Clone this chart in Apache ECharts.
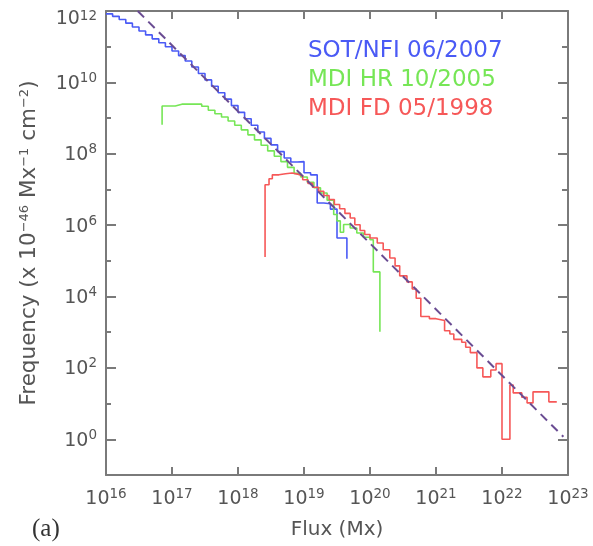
<!DOCTYPE html>
<html><head><meta charset="utf-8">
<script src="https://cdn.jsdelivr.net/npm/echarts@6/dist/echarts.min.js"></script>
<style>html,body{margin:0;padding:0;background:#fff}#c{width:593px;height:546px}</style>
</head><body><div id="c"></div>
<script>
// Values are log10 values
// (flux in Mx, frequency in units of 1e-46 Mx^-1 cm^-2); axes are decades.
const xTickExps = [16, 17, 18, 19, 20, 21, 22, 23];
const yMajorExps = [0, 2, 4, 6, 8, 10, 12];
const yMinorExps = [-1, 1, 3, 5, 7, 9, 11];

// SOT/NFI 06/2007 (blue): bin left edges / values
const sotLogFlux = [16.0,16.1,16.2,16.3,16.4,16.5,16.6,16.7,16.8,16.9,
  17.0,17.1,17.2,17.3,17.4,17.5,17.6,17.7,17.8,17.9,
  18.0,18.1,18.2,18.3,18.4,18.5,18.6,18.7,18.8,18.9,
  19.0,19.1,19.2,19.3,19.4,19.5,19.65,19.65];
const sotLogFreq = [11.92,11.85,11.76,11.66,11.55,11.44,11.33,11.22,11.11,11.00,
  10.88,10.75,10.60,10.43,10.25,10.07,9.89,9.71,9.53,9.35,
  9.16,8.98,8.80,8.61,8.43,8.25,8.06,7.88,7.77,7.78,
  7.47,7.41,6.62,6.60,6.45,5.64,5.64,5.06];

// MDI HR 10/2005 (green)
const hrLogFlux = [16.85,16.85,16.95,17.05,17.15,17.25,17.35,17.45,17.55,17.65,
  17.75,17.85,17.95,18.05,18.15,18.25,18.35,18.45,18.55,18.65,
  18.75,18.85,18.95,19.05,19.15,19.25,19.35,19.45,19.50,19.55,
  19.60,19.70,19.80,19.90,20.00,20.05,20.15,20.15];
const hrLogFreq = [8.81,9.34,9.34,9.39,9.39,9.39,9.39,9.33,9.22,9.12,
  9.03,8.92,8.80,8.67,8.53,8.39,8.24,8.08,7.93,7.78,
  7.62,7.45,7.35,7.20,7.05,6.90,6.70,6.30,6.12,5.80,
  6.02,5.92,5.78,5.66,5.59,4.69,4.69,3.01];

// MDI FD 05/1998 (red)
const fdLogFlux = [18.41,18.41,18.47,18.52,18.62,18.72,18.82,18.90,18.98,19.06,
  19.13,19.22,19.30,19.38,19.46,19.54,19.62,19.70,19.77,19.85,
  19.92,20.00,20.11,20.20,20.30,20.38,20.45,20.56,20.64,20.70,
  20.77,20.90,21.00,21.13,21.21,21.27,21.39,21.45,21.52,21.62,
  21.71,21.83,21.91,22.00,22.12,22.17,22.30,22.38,22.47,22.71,22.83];
const fdLogFreq = [5.11,7.13,7.30,7.41,7.44,7.46,7.43,7.38,7.27,7.17,
  7.06,6.95,6.83,6.72,6.58,6.46,6.33,6.20,6.01,5.85,
  5.74,5.64,5.50,5.31,5.08,4.86,4.58,4.41,4.21,3.95,
  3.44,3.38,3.33,3.04,2.95,2.80,2.72,2.58,2.43,2.00,
  1.75,1.94,2.12,0.00,1.52,1.30,1.18,1.02,1.33,1.05,1.05];

// power-law fit (dashed) end points
const fitLogFlux = [16.48, 22.93];
const fitLogFreq = [12.0, 0.07];

const legendNames = ['SOT/NFI 06/2007', 'MDI HR 10/2005', 'MDI FD 05/1998'];
const colors = ['#4a5af5', '#76e656', '#f65858'];
const fitColor = '#6a4c93';

const pts = (xs, ys) => xs.map((x, i) => [x, ys[i]]);

const axisColor = '#7a7a7a';
const labelColor = '#555';
const FONT = 'DejaVu Sans';
const supLabel = v => {
  const e = Math.round(v);
  return e === 12 ? '{bt|10}{st|' + e + '}' : '{b|10}{s|' + e + '}';
};
const labelRich = {
  b: {fontFamily: FONT, fontSize: 19, color: labelColor, lineHeight: 22, verticalAlign: 'bottom'},
  s: {fontFamily: FONT, fontSize: 13.5, color: labelColor, lineHeight: 14, verticalAlign: 'top'},
  bt: {fontFamily: FONT, fontSize: 19, color: labelColor, lineHeight: 22, verticalAlign: 'top', padding: [10, 0, 0, 0]},
  st: {fontFamily: FONT, fontSize: 13.5, color: labelColor, lineHeight: 14, verticalAlign: 'top', padding: [9, 0, 0, 0]}
};
const lineS = {color: axisColor, width: 2};
const base = {type: 'value', scale: false, splitLine: {show: false}, minorTick: {show: false}};

const xA = Object.assign({}, base, {
  min: 16, max: 23, interval: 1, position: 'bottom',
  axisLine: {show: true, onZero: false, lineStyle: lineS},
  axisTick: {show: true, inside: true, length: 8, lineStyle: lineS},
  axisLabel: {show: true, margin: 12, formatter: supLabel, rich: labelRich,
    showMinLabel: true, showMaxLabel: true},
  name: 'Flux (Mx)', nameLocation: 'middle', nameGap: 45,
  nameTextStyle: {fontFamily: FONT, fontSize: 20, color: labelColor}
});
const xB = Object.assign({}, base, {
  min: 16, max: 23, interval: 1, position: 'top',
  axisLine: {show: true, onZero: false, lineStyle: lineS},
  axisTick: {show: true, inside: true, length: 8, lineStyle: lineS},
  axisLabel: {show: false}
});
const yA = Object.assign({}, base, {
  min: -1, max: 12, position: 'left',
  axisLine: {show: true, onZero: false, lineStyle: lineS},
  axisTick: {show: true, inside: true, length: 10, customValues: yMajorExps, lineStyle: lineS},
  axisLabel: {show: true, customValues: yMajorExps, margin: 9, formatter: supLabel, rich: labelRich},
  name: 'Frequency (x 10{s|−46} Mx{s|−1} cm{s|−2})', nameLocation: 'middle', nameGap: 66,
  nameTextStyle: {fontFamily: FONT, fontSize: 21.5, color: labelColor,
    rich: {s: {fontFamily: FONT, fontSize: 13, color: labelColor, verticalAlign: 'top', lineHeight: 13}}}
});
const yB = Object.assign({}, base, {
  min: -1, max: 12, position: 'left',
  axisLine: {show: false, onZero: false},
  axisTick: {show: true, inside: true, length: 5, customValues: yMinorExps, lineStyle: lineS},
  axisLabel: {show: false}
});
const yC = Object.assign({}, base, {
  min: -1, max: 12, position: 'right',
  axisLine: {show: true, onZero: false, lineStyle: lineS},
  axisTick: {show: true, inside: true, length: 10, customValues: yMajorExps, lineStyle: lineS},
  axisLabel: {show: false}
});
const yD = Object.assign({}, base, {
  min: -1, max: 12, position: 'right',
  axisLine: {show: false, onZero: false},
  axisTick: {show: true, inside: true, length: 6, customValues: yMinorExps, lineStyle: lineS},
  axisLabel: {show: false}
});

function stepSeries(name, xs, ys, color) {
  return {name, type: 'line', step: 'end', data: pts(xs, ys), showSymbol: false,
    symbol: 'none', lineStyle: {color, width: 1.6}, itemStyle: {color},
    xAxisIndex: 0, yAxisIndex: 0, clip: true, animation: false};
}

const option = {
  animation: false,
  backgroundColor: '#fff',
  grid: {left: 106, right: 25, top: 11, bottom: 71, containLabel: false, outerBoundsMode: 'none'},
  xAxis: [xA, xB],
  yAxis: [yA, yB, yC, yD],
  series: [
    stepSeries(legendNames[0], sotLogFlux, sotLogFreq, colors[0]),
    stepSeries(legendNames[1], hrLogFlux, hrLogFreq, colors[1]),
    stepSeries(legendNames[2], fdLogFlux, fdLogFreq, colors[2]),
    {name: 'fit', type: 'line', data: pts(fitLogFlux, fitLogFreq), showSymbol: false,
      symbol: 'none', lineStyle: {color: fitColor, width: 2, type: [9, 6]},
      xAxisIndex: 0, yAxisIndex: 0, animation: false}
  ],
  graphic: [
    {type: 'text', left: 308, top: 40, style: {text: legendNames[0], fill: colors[0], font: '23px "DejaVu Sans"'}},
    {type: 'text', left: 308, top: 69, style: {text: legendNames[1], fill: colors[1], font: '23px "DejaVu Sans"'}},
    {type: 'text', left: 308, top: 98, style: {text: legendNames[2], fill: colors[2], font: '23px "DejaVu Sans"'}},
    {type: 'text', left: 32, top: 517, style: {text: '(a)', fill: '#333', font: '25px "Liberation Serif"'}}
  ]
};
const chart = echarts.init(document.getElementById('c'));
chart.setOption(option);
</script></body></html>
